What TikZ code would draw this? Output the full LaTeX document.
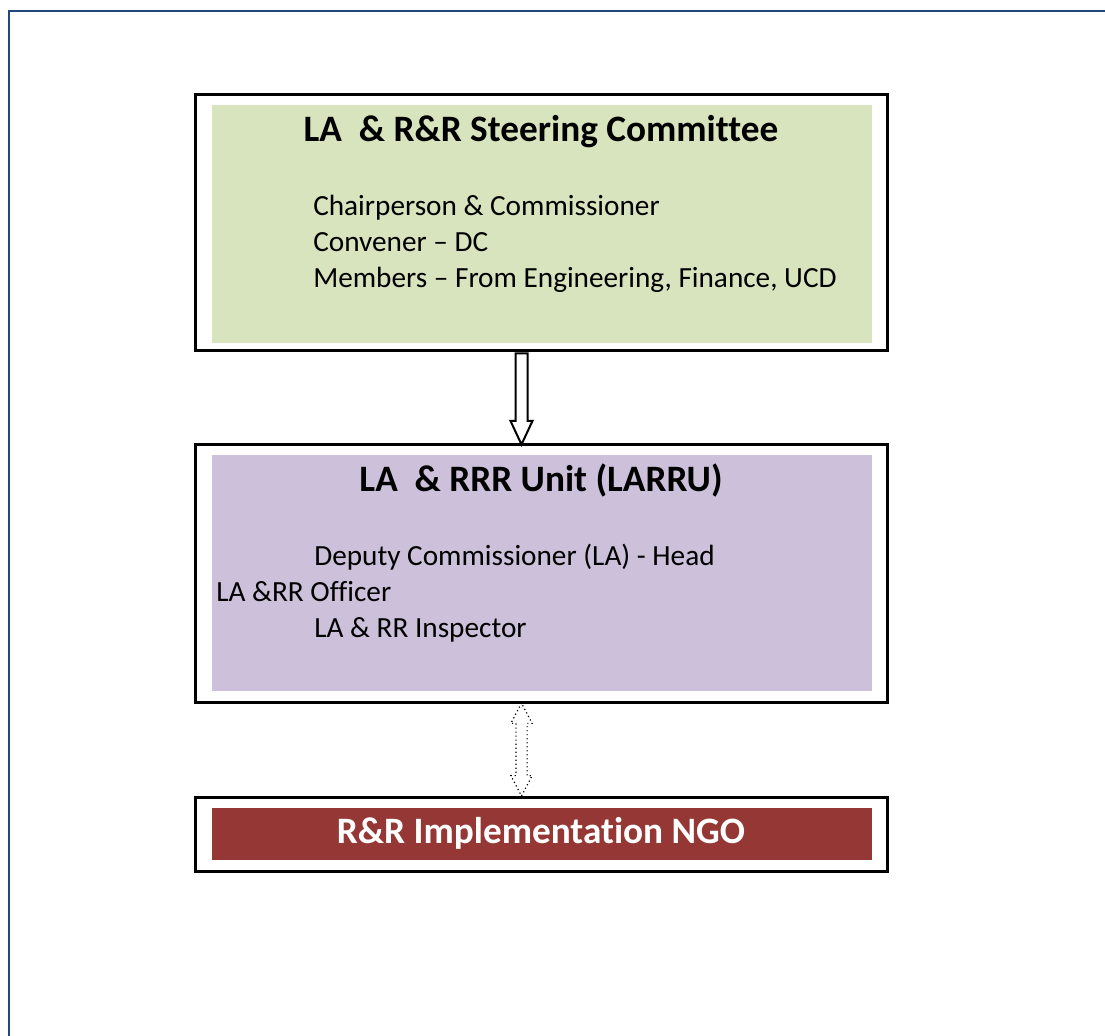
\documentclass[tikz,border=0pt]{standalone}
\usepackage{fontspec}
\setmainfont{Carlito}[Ligatures=NoCommon]
\usetikzlibrary{positioning,calc,shapes.arrows}
\definecolor{pageblue}{RGB}{31, 73, 125}
\definecolor{committeegreen}{RGB}{215, 228, 189}
\definecolor{unitpurple}{RGB}{204, 192, 218}
\definecolor{ngored}{RGB}{149, 55, 53}
\newdimen\pxu
\pxu=0.025cm

\begin{document}
\begin{tikzpicture}[x=0.025cm, y=-0.025cm,
page_frame/.style={draw=pageblue, line width=2\pxu},
outer_box/.style={rectangle, draw=black, line width=3\pxu, minimum width=692\pxu, inner sep=0},
fill_box/.style={rectangle, minimum width=660\pxu, inner sep=0},
title_text/.style={anchor=base, inner sep=0, font=\fontsize{26.5}{32}\selectfont\bfseries},
body_text/.style={anchor=base west, inner sep=0, font=\fontsize{20.8}{25}\selectfont},
down_arrow/.style={single arrow, draw=black, line width=2\pxu, fill=white, inner sep=5\pxu, single arrow head extend=5\pxu, single arrow tip angle=50, shape border rotate=270, anchor=tail},
both_arrow/.style={double arrow, draw=black, dotted, line width=1.2\pxu, inner sep=5\pxu, double arrow head extend=5\pxu, double arrow tip angle=55, shape border rotate=90}
]
\useasboundingbox (0,0) rectangle (1105,1036);

%Page frame
\draw[page_frame] (8.5,1036) -- (8.5,11) -- (1105,11);

%Nodes
%Nodes steering committee
\node[outer_box, minimum height=256\pxu] 						(committee_box) at (541,223) {};
\node[fill_box, fill=committeegreen, minimum height=238\pxu] 	(committee_fill) at (542,224) {};
\node[title_text] 											(committee_title) at (541,142) {LA\ \ \& R\&R Steering Committee};
\node[body_text] 											(committee_line_1) at (313,216) {Chairperson \& Commissioner};
\node[body_text] 											(committee_line_2) at (313,252) {Convener -- DC};
\node[body_text] 											(committee_line_3) at (313,288) {Members -- From Engineering, Finance, UCD};

%Nodes unit
\node[outer_box, minimum height=257\pxu] 						(unit_box) at (541,573.5) {};
\node[fill_box, fill=unitpurple, minimum height=236\pxu] 		(unit_fill) at (542,573) {};
\node[title_text] 											(unit_title) at (541,491) {LA\ \ \& RRR Unit (LARRU)};
\node[body_text] 											(unit_line_1) at (314,565) {Deputy Commissioner (LA) - Head};
\node[body_text] 											(unit_line_2) at (216,601) {LA \&RR Officer};
\node[body_text] 											(unit_line_3) at (314,637) {LA \& RR Inspector};

%Nodes NGO
\node[outer_box, minimum height=74\pxu] 						(ngo_box) at (541,834) {};
\node[fill_box, fill=ngored, minimum height=52\pxu] 			(ngo_fill) at (542,834) {};
\node[title_text, text=white] 								(ngo_title) at (541,843) {R\&R Implementation NGO};

%Arrow
%Arrow from committee to unit
\node[down_arrow, minimum height=91\pxu] (committee_to_unit) at ($(committee_box.south)+(-19.5,0)$) {};

%Arrow between unit and NGO
\node[both_arrow, minimum height=93\pxu] (unit_to_ngo) at ($(unit_box.south)!0.5!(ngo_box.north)+(-19.5,0)$) {};

\end{tikzpicture}
\end{document}
